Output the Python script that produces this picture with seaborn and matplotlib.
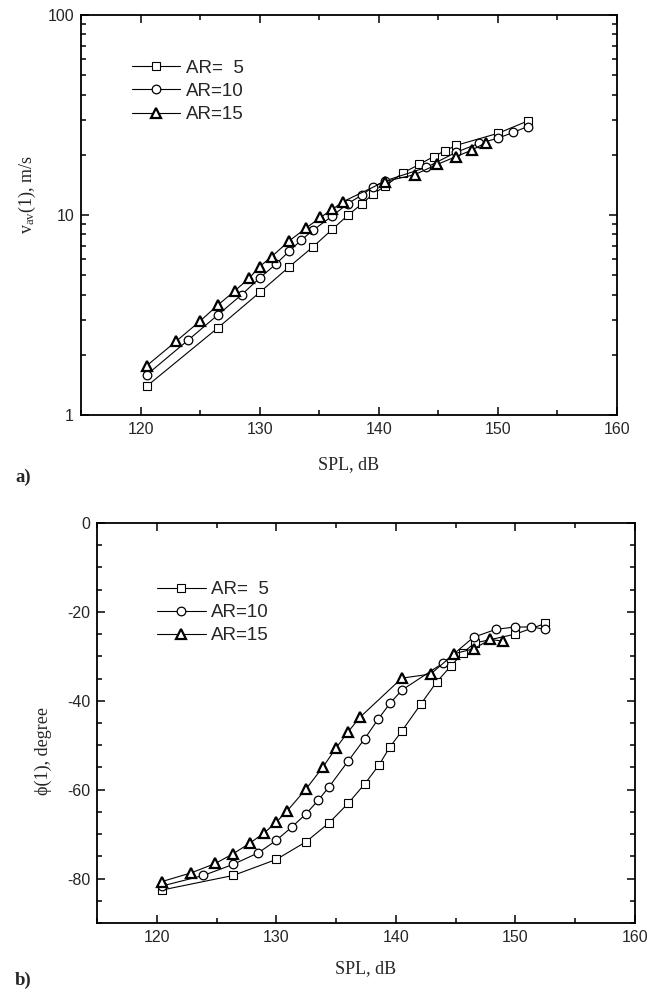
import numpy as np
import pandas as pd
import matplotlib
matplotlib.use("Agg")
import matplotlib.pyplot as plt
import seaborn as sns
from matplotlib.ticker import MultipleLocator, FixedLocator, NullFormatter, FixedFormatter

# ---------------- data ----------------
labels = ["AR=  5", "AR=10", "AR=15"]

# panel a) velocity amplitude, m/s
xa5 = [120.5, 126.5, 130.0, 132.5, 134.5, 136.1, 137.4, 138.6, 139.5, 140.5, 142.0, 143.4, 144.6, 145.6, 146.5, 150.0, 152.5]
ya5 = [1.39, 2.73, 4.10, 5.52, 6.95, 8.48, 9.96, 11.4, 12.7, 13.9, 16.2, 17.9, 19.6, 21.0, 22.3, 25.6, 29.5]
xa10 = [120.5, 124.0, 126.5, 128.5, 130.0, 131.4, 132.5, 133.5, 134.5, 136.1, 137.4, 138.6, 139.5, 140.5, 144.0, 146.5, 148.4, 150.0, 151.3, 152.5]
ya10 = [1.585, 2.37, 3.17, 4.0, 4.84, 5.71, 6.61, 7.5, 8.41, 9.89, 11.4, 12.6, 13.8, 14.8, 17.3, 20.6, 22.8, 24.2, 25.9, 27.7]
xa15 = [120.5, 123.0, 125.0, 126.5, 127.9, 129.1, 130.0, 131.0, 132.5, 133.9, 135.1, 136.1, 137.0, 140.5, 143.0, 144.9, 146.5, 147.8, 149.0]
ya15 = [1.76, 2.34, 2.95, 3.55, 4.17, 4.82, 5.52, 6.19, 7.44, 8.61, 9.73, 10.67, 11.66, 14.7, 15.9, 17.9, 19.6, 21.1, 23.0]

# panel b) phase, degree
xb5 = [120.4, 126.4, 130.0, 132.5, 134.4, 136.0, 137.4, 138.6, 139.5, 140.5, 142.1, 143.4, 144.6, 145.6, 146.6, 150.0, 152.5]
yb5 = [-82.6, -79.3, -75.7, -71.7, -67.5, -63.1, -58.7, -54.4, -50.4, -46.8, -40.7, -35.8, -32.2, -29.2, -27.0, -25.0, -22.6]
xb10 = [120.4, 123.9, 126.4, 128.5, 130.0, 131.3, 132.5, 133.5, 134.4, 136.0, 137.4, 138.5, 139.5, 140.5, 143.9, 146.5, 148.4, 150.0, 151.3, 152.5]
yb10 = [-81.7, -79.3, -76.8, -74.2, -71.4, -68.4, -65.4, -62.4, -59.4, -53.6, -48.5, -44.2, -40.6, -37.6, -31.6, -25.7, -23.9, -23.4, -23.4, -23.9]
xb15 = [120.4, 122.9, 124.9, 126.4, 127.8, 129.0, 130.0, 130.9, 132.5, 133.9, 135.0, 136.0, 137.0, 140.5, 142.9, 144.9, 146.5, 147.9, 149.0]
yb15 = [-80.7, -78.7, -76.6, -74.4, -72.0, -69.7, -67.3, -64.8, -59.8, -54.9, -50.6, -47.0, -43.7, -34.9, -34.0, -29.4, -28.3, -26.2, -26.6]

xticks_major = [120, 130, 140, 150, 160]
ya_ticks = [1, 10, 100]
ya_ticklabels = ["1", "10", "100"]
yb_ticks = [0, -20, -40, -60, -80]
yb_ticklabels = ["0", "-20", "-40", "-60", "-80"]

# ---------------- style ----------------
sns.set_style("ticks")
plt.rcParams["font.family"] = ["Liberation Sans", "DejaVu Sans"]
plt.rcParams["axes.unicode_minus"] = False
plt.rcParams["mathtext.fontset"] = "custom"
plt.rcParams["mathtext.rm"] = "Liberation Serif"
plt.rcParams["mathtext.it"] = "Liberation Serif:italic"

serif = ["Liberation Serif", "DejaVu Serif"]

fig = plt.figure(figsize=(6.63, 9.89), dpi=100)
W, H = 663.0, 989.0
ax1 = fig.add_axes([81 / W, 1 - 415 / H, 536 / W, 400 / H])
ax2 = fig.add_axes([97 / W, 1 - 923 / H, 538 / W, 400 / H])

styles = [
    dict(marker="s", markersize=5.2, markeredgewidth=0.8),
    dict(marker="o", markersize=6.2, markeredgewidth=0.9),
    dict(marker="^", markersize=6.8, markeredgewidth=1.6),
]


def draw(ax, xs, ys):
    for x, y, lab, st in zip(xs, ys, labels, styles):
        df = pd.DataFrame({"x": x, "y": y})
        sns.lineplot(data=df, x="x", y="y", ax=ax, color="black", linewidth=0.8,
                     markerfacecolor="white", markeredgecolor="black",
                     estimator=None, sort=False, label=lab, **st)


draw(ax1, [xa5, xa10, xa15], [ya5, ya10, ya15])
draw(ax2, [xb5, xb10, xb15], [yb5, yb10, yb15])

for ax in (ax1, ax2):
    ax.set_xlim(115, 160)
    ax.xaxis.set_major_locator(FixedLocator(xticks_major))
    ax.xaxis.set_minor_locator(MultipleLocator(5))
    ax.tick_params(which="both", direction="in", top=True, right=True,
                   width=1.1, color="black")
    ax.tick_params(which="major", length=5.8, labelsize=11.5, pad=5)
    ax.tick_params(which="minor", length=3.6)
    for s in ax.spines.values():
        s.set_linewidth(1.3)
        s.set_color("black")
    ax.set_xlabel("SPL, dB", fontsize=13, family=serif)
    ax.xaxis.label.set_va("center")
    leg = ax.legend(frameon=False, fontsize=13.5, handlelength=2.6, handletextpad=0.3,
                    labelspacing=0.32, borderpad=0, borderaxespad=0, numpoints=1,
                    loc="upper left")
    for t in ax.get_xticklabels() + ax.get_yticklabels():
        t.set_family(["Liberation Sans", "DejaVu Sans"])

# panel a axes
ax1.set_yscale("log")
ax1.set_ylim(1, 100)
ax1.yaxis.set_major_locator(FixedLocator(ya_ticks))
ax1.yaxis.set_major_formatter(FixedFormatter(ya_ticklabels))
ax1.yaxis.set_minor_locator(FixedLocator([m * d for d in (1, 10) for m in range(2, 10)]))
ax1.yaxis.set_minor_formatter(NullFormatter())
ax1.set_ylabel(r"v$_{\rm av}$(1), m/s", fontsize=13, family=serif)
ax1.xaxis.set_label_coords(0.5, -50 / 400)
ax1.yaxis.set_label_coords(-54 / 536, 0.55)
ax1.yaxis.label.set_va("center")
ax1.legend_.set_bbox_to_anchor((0.0946, 0.888), transform=ax1.transAxes)

# panel b axes
ax2.set_ylim(-90, 0)
ax2.yaxis.set_major_locator(FixedLocator(yb_ticks))
ax2.yaxis.set_major_formatter(FixedFormatter(yb_ticklabels))
ax2.yaxis.set_minor_locator(MultipleLocator(5))
ax2.set_ylabel("\u03d5(1), degree", fontsize=13, family=serif)
ax2.xaxis.set_label_coords(0.5, -46 / 400)
ax2.yaxis.set_label_coords(-54 / 538, 0.43)
ax2.yaxis.label.set_va("center")
ax2.legend_.set_bbox_to_anchor((0.1115, 0.855), transform=ax2.transAxes)

for t in ax1.get_yticklabels() + ax2.get_yticklabels():
    t.set_fontsize(11.5)

fig.text(15 / W, 1 - 477 / H, "a)", fontsize=13.5, fontweight="bold", family=serif,
         ha="left", va="center")
fig.text(15 / W, 1 - 980 / H, "b)", fontsize=13.5, fontweight="bold", family=serif,
         ha="left", va="center")

fig.savefig("out.png", dpi=100)
